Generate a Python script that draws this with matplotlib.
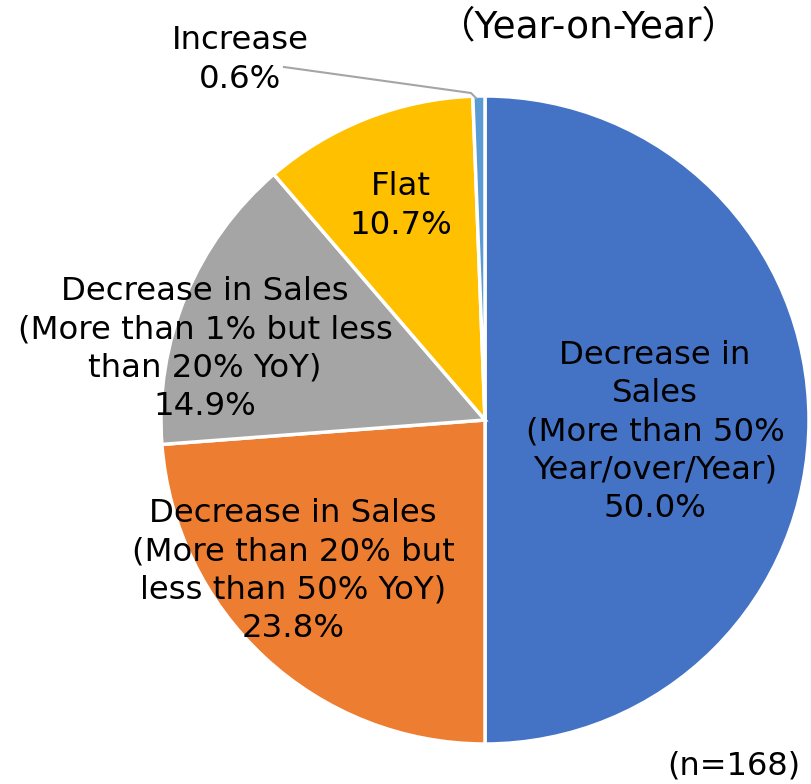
import matplotlib.pyplot as plt

labels = ['Decrease in\nSales\n(More than 50%\nYear/over/Year)',
          'Decrease in Sales\n(More than 20% but\nless than 50% YoY)',
          'Decrease in Sales\n(More than 1% but less\nthan 20% YoY)',
          'Flat',
          'Increase']
shares = [50.0, 23.8, 14.9, 10.7, 0.6]
colors = ['#4472C4', '#ED7D31', '#A5A5A5', '#FFC000', '#5B9BD5']
n_total = 168

# label positions in pixel coords (x, y from top)
label_pos = [(655, 432), (293, 571), (205, 349), (401, 206), (240, 60)]

fig = plt.figure(figsize=(8.11, 7.84), dpi=100)
ax = fig.add_axes([0, 0, 1, 1])

cx, cy, r = 485, 784 - 420, 324
ax.pie(shares, colors=colors, startangle=90, counterclock=False,
       center=(cx, cy), radius=r, frame=True,
       wedgeprops=dict(edgecolor='white', linewidth=2.5))
ax.set_xlim(0, 811)
ax.set_ylim(0, 784)
ax.axis('off')

fs = 23.3
for i, (lab, val) in enumerate(zip(labels, shares)):
    x, y = label_pos[i]
    ax.text(x, 784 - y, f'{lab}\n{val:.1f}%', ha='center', va='center',
            fontsize=fs, linespacing=1.3, color='black')

# leader line for the small slice
ax.plot([284, 471, 476], [784 - 67, 784 - 93, 784 - 98], color='#A5A5A5', lw=1.5)

fig.text(438 / 811, 1 - 27 / 784, '\uff08Year-on-Year\uff09', ha='left', va='center',
         fontsize=27, family=['DejaVu Sans', 'Noto Sans CJK JP'])
fig.text(800 / 811, 1 - 766 / 784, f'(n={n_total})', ha='right', va='center',
         fontsize=23)

fig.savefig('out.png', dpi=100)
